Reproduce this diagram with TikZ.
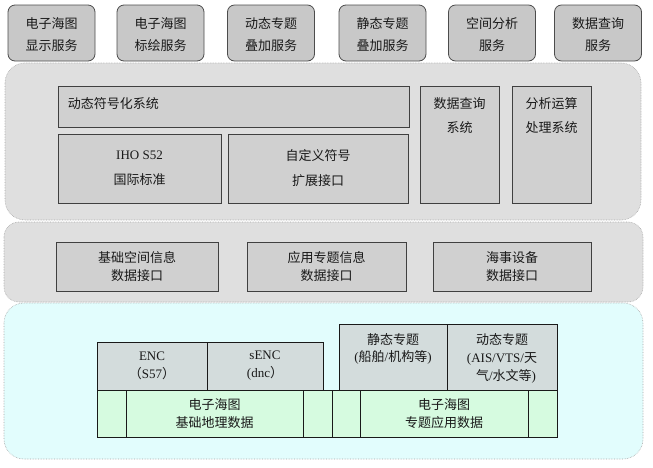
\documentclass[tikz,border=0pt]{standalone}
\usepackage{fontspec}
\setmainfont{Liberation Serif}
\newfontfamily\cjk{Noto Sans CJK SC}
\newfontfamily\latfont{Liberation Serif}
\usepackage{xcolor}
\usepackage{tikz}
\usetikzlibrary{positioning}
\definecolor{svcgray}{HTML}{C8C8C8}
\definecolor{laygray}{HTML}{DFDFDF}
\definecolor{blkgray}{HTML}{D0D0D0}
\definecolor{laycyan}{HTML}{E2FDFD}
\definecolor{tabgray}{HTML}{D3DCDC}
\definecolor{tabgreen}{HTML}{D6FBE0}

\begin{document}
\begin{tikzpicture}[x=1pt, y=-1pt,
    txt/.style={font=\cjk\fontsize{13}{#1}\selectfont, align=center,
                inner sep=0pt, text=black!90},
    txt/.default=18,
    svc/.style={draw=black!70, fill=svcgray, rounded corners=7pt, line width=0.8pt,
                minimum width=87pt, minimum height=56pt, txt=22},
    layer/.style={draw=black!35, densely dotted, line width=0.6pt, fill=#1,
                  rounded corners=20pt},
    blk/.style={draw=black!75, fill=blkgray, line width=0.8pt, txt=#1},
    blk/.default=18,
    cell/.style={draw=black!90, fill=#1, line width=0.7pt, txt=18},
]
    \useasboundingbox (0,0) rectangle (653,467);

    % Layers
    \draw[layer=laygray] (5,63) rectangle (641,220);
    \draw[layer=laygray, rounded corners=15pt] (4,222) rectangle (643,302);
    \draw[layer=laycyan] (4,303) rectangle (643,459);

    % Services
    \node[svc] (dispsvc) at (51.5,33) {\rule{0pt}{14pt}电子海图\\显示服务};
    \node[svc] (plotsvc) at (160.5,33) {\rule{0pt}{14pt}电子海图\\标绘服务};
    \node[svc] (dynsvc) at (271,33) {\rule{0pt}{14pt}动态专题\\叠加服务};
    \node[svc] (stasvc) at (382.5,33) {\rule{0pt}{14pt}静态专题\\叠加服务};
    \node[svc] (spasvc) at (492,33) {\rule{0pt}{14pt}空间分析\\服务};
    \node[svc] (qrysvc) at (598,33) {\rule{0pt}{14pt}数据查询\\服务};

    % Systems
    \node[blk, minimum width=351pt, minimum height=41pt] (sym) at (233.5,106.5) {};
    \node[txt, anchor=west] (symlbl) at ([xshift=10pt,yshift=3pt]sym.west) {动态符号化系统};
    \node[blk=25, minimum width=163pt, minimum height=69pt] (iho) at (139.5,168.5)
        {{\latfont IHO S52}\\国际标准};
    \node[blk=25, minimum width=180pt, minimum height=69pt] (ext) at (318,168.5)
        {自定义符号\\扩展接口};
    \node[blk, minimum width=79pt, minimum height=117pt] (qry) at (459.5,144.5) {};
    \node[txt=24, below=12pt of qry.north] (qrylbl) {数据查询\\系统};
    \node[blk, minimum width=79pt, minimum height=117pt] (ana) at (551.5,144.5) {};
    \node[txt=24, below=12pt of ana.north] (analbl) {分析运算\\处理系统};

    % Interfaces
    \node[blk, minimum width=162pt, minimum height=49pt] (basif) at (137,266.5)
        {基础空间信息\\数据接口};
    \node[blk, minimum width=159pt, minimum height=49pt] (appif) at (326.5,266.5)
        {应用专题信息\\数据接口};
    \node[blk, minimum width=158pt, minimum height=49pt] (marif) at (512,266.5)
        {海事设备\\数据接口};

    % Data
    \node[cell=tabgray, minimum width=110pt, minimum height=48pt] (enc) at (152,366)
        {{\latfont ENC}\\（{\latfont S57}）};
    \node[cell=tabgray, minimum width=116pt, minimum height=48pt] (senc) at (265,366)
        {{\latfont sENC}\\{\latfont (dnc}）};
    \node[cell=tabgray, minimum width=108pt, minimum height=66pt] (sta) at (393,357) {};
    \node[txt=17, below=10pt of sta.north] (stalbl)
        {静态专题\\{\latfont (}船舶{\latfont /}机构等{\latfont )}};
    \node[cell=tabgray, minimum width=110pt, minimum height=66pt] (dyn) at (502,357) {};
    \node[txt=18, below=10pt of dyn.north] (dynlbl)
        {动态专题\\{\latfont (AIS/VTS/}天\\\hspace*{8pt}气{\latfont /}水文等{\latfont )}};
    \node[cell=tabgreen, minimum width=29pt, minimum height=47pt] (ga) at (111.5,413.5) {};
    \node[cell=tabgreen, minimum width=177pt, minimum height=47pt] (gbase) at (214.5,413.5)
        {电子海图\\基础地理数据};
    \node[cell=tabgreen, minimum width=29pt, minimum height=47pt] (gb) at (317.5,413.5) {};
    \node[cell=tabgreen, minimum width=28pt, minimum height=47pt] (gc) at (346,413.5) {};
    \node[cell=tabgreen, minimum width=168pt, minimum height=47pt] (gtheme) at (444,413.5)
        {电子海图\\专题应用数据};
    \node[cell=tabgreen, minimum width=29pt, minimum height=47pt] (gd) at (542.5,413.5) {};
\end{tikzpicture}
\end{document}
